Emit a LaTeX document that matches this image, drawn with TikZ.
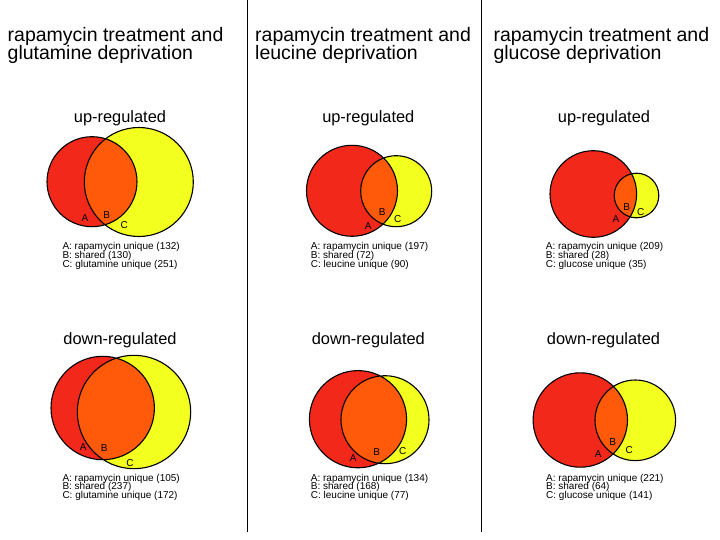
\documentclass[tikz,border=0pt]{standalone}
\usepackage{fontspec}
\setmainfont{Liberation Sans}
\usetikzlibrary{positioning}
\definecolor{vennred}{HTML}{F2281A}
\definecolor{vennorange}{HTML}{FF5A0A}
\definecolor{vennyellow}{HTML}{F2FF1F}
\newcommand{\headfont}{\fontsize{19.5}{17.7}\selectfont\setlength{\lineskiplimit}{-20pt}}

\begin{document}
\begin{tikzpicture}[x=1pt, y=-1pt,
  head/.style={anchor=north west, inner sep=0pt, align=left, font=\headfont},
  sub/.style={anchor=base, inner sep=0pt, font=\fontsize{16.4}{16.4}\selectfont},
  lbl/.style={anchor=center, inner sep=0pt, font=\fontsize{10}{10}\selectfont},
  legend/.style={anchor=base west, inner sep=0pt, font=\fontsize{10}{10}\selectfont},
  ring/.style={draw=black, line width=1.1pt},
  sep/.style={line width=1.5pt}
]
\useasboundingbox (0,0) rectangle (720,540);

% column separators
\draw[sep] (247.5,0) -- (247.5,532);
\draw[sep] (481.5,0) -- (481.5,532);

% headings
\node[head] (gln) at (7.5,27.3) {rapamycin treatment and\\glutamine deprivation};
\node[head] (leu) at (255,27.3) {rapamycin treatment and\\leucine deprivation};
\node[head] (glu) at (493.3,27.3) {rapamycin treatment and\\glucose deprivation};

\node[sub] (glnup) at (120,123) {up-regulated};
\node[sub] (leuup) at (368.3,123) {up-regulated};
\node[sub] (gluup) at (604,123) {up-regulated};
\node[sub] (glndn) at (120,344) {down-regulated};
\node[sub] (leudn) at (368.3,344) {down-regulated};
\node[sub] (gludn) at (603.5,344) {down-regulated};

% glutamine, up
\fill[vennred] (92,181.7) circle[radius=45pt];
\fill[vennyellow] (138.8,182) circle[radius=54.5pt];
\begin{scope}
  \clip (92,181.7) circle[radius=45pt];
  \fill[vennorange] (138.8,182) circle[radius=54.5pt];
\end{scope}
\draw[ring] (92,181.7) circle[radius=45pt] (138.8,182) circle[radius=54.5pt];
\node[lbl] (glnupA) at (85,217.7) {A};
\node[lbl] (glnupB) at (106.7,215) {B};
\node[lbl] (glnupC) at (124.3,225.3) {C};
\node[legend] (glnupa) at (62.3,249.5) {A: rapamycin unique (132)};
\node[legend] (glnupb) at (62.3,258.3) {B: shared (130)};
\node[legend] (glnupc) at (62.3,267) {C: glutamine unique (251)};

% glutamine, down
\fill[vennred] (102.7,408) circle[radius=51.7pt];
\fill[vennyellow] (134,412) circle[radius=56.7pt];
\begin{scope}
  \clip (102.7,408) circle[radius=51.7pt];
  \fill[vennorange] (134,412) circle[radius=56.7pt];
\end{scope}
\draw[ring] (102.7,408) circle[radius=51.7pt] (134,412) circle[radius=56.7pt];
\node[lbl] (glndnA) at (83.3,446.7) {A};
\node[lbl] (glndnB) at (104.3,447.7) {B};
\node[lbl] (glndnC) at (130,462.7) {C};
\node[legend] (glndna) at (62.3,481) {A: rapamycin unique (105)};
\node[legend] (glndnb) at (62.3,489.8) {B: shared (237)};
\node[legend] (glndnc) at (62.3,498.6) {C: glutamine unique (172)};

% leucine, up
\fill[vennred] (352,190.8) circle[radius=45.5pt];
\fill[vennyellow] (396.2,191.2) circle[radius=35.5pt];
\begin{scope}
  \clip (352,190.8) circle[radius=45.5pt];
  \fill[vennorange] (396.2,191.2) circle[radius=35.5pt];
\end{scope}
\draw[ring] (352,190.8) circle[radius=45.5pt] (396.2,191.2) circle[radius=35.5pt];
\node[lbl] (leuupA) at (368.3,225.7) {A};
\node[lbl] (leuupB) at (382.3,212.3) {B};
\node[lbl] (leuupC) at (397.7,219.3) {C};
\node[legend] (leuupa) at (310.7,249.5) {A: rapamycin unique (197)};
\node[legend] (leuupb) at (310.7,258.3) {B: shared (72)};
\node[legend] (leuupc) at (310.7,267) {C: leucine unique (90)};

% leucine, down
\fill[vennred] (358,419.2) circle[radius=48.6pt];
\fill[vennyellow] (385,419.7) circle[radius=44pt];
\begin{scope}
  \clip (358,419.2) circle[radius=48.6pt];
  \fill[vennorange] (385,419.7) circle[radius=44pt];
\end{scope}
\draw[ring] (358,419.2) circle[radius=48.6pt] (385,419.7) circle[radius=44pt];
\node[lbl] (leudnA) at (353.3,458.3) {A};
\node[lbl] (leudnB) at (376.7,451.7) {B};
\node[lbl] (leudnC) at (402.7,451) {C};
\node[legend] (leudna) at (310.7,481) {A: rapamycin unique (134)};
\node[legend] (leudnb) at (310.7,489.8) {B: shared (168)};
\node[legend] (leudnc) at (310.7,498.6) {C: leucine unique (77)};

% glucose, up
\fill[vennred] (593.3,194) circle[radius=43.3pt];
\fill[vennyellow] (636.5,195.5) circle[radius=22.3pt];
\begin{scope}
  \clip (593.3,194) circle[radius=43.3pt];
  \fill[vennorange] (636.5,195.5) circle[radius=22.3pt];
\end{scope}
\draw[ring] (593.3,194) circle[radius=43.3pt] (636.5,195.5) circle[radius=22.3pt];
\node[lbl] (gluupA) at (616,219) {A};
\node[lbl] (gluupB) at (626.7,206.7) {B};
\node[lbl] (gluupC) at (640.7,211.7) {C};
\node[legend] (gluupa) at (545.7,249.5) {A: rapamycin unique (209)};
\node[legend] (gluupb) at (545.7,258.3) {B: shared (28)};
\node[legend] (gluupc) at (545.7,267) {C: glucose unique (35)};

% glucose, down
\fill[vennred] (580.3,420) circle[radius=47.2pt];
\fill[vennyellow] (635.3,420.3) circle[radius=40.3pt];
\begin{scope}
  \clip (580.3,420) circle[radius=47.2pt];
  \fill[vennorange] (635.3,420.3) circle[radius=40.3pt];
\end{scope}
\draw[ring] (580.3,420) circle[radius=47.2pt] (635.3,420.3) circle[radius=40.3pt];
\node[lbl] (gludnA) at (598.3,454) {A};
\node[lbl] (gludnB) at (612.7,441.7) {B};
\node[lbl] (gludnC) at (629.3,450) {C};
\node[legend] (gludna) at (546,481) {A: rapamycin unique (221)};
\node[legend] (gludnb) at (546,489.8) {B: shared (64)};
\node[legend] (gludnc) at (546,498.6) {C: glucose unique (141)};
\end{tikzpicture}
\end{document}
